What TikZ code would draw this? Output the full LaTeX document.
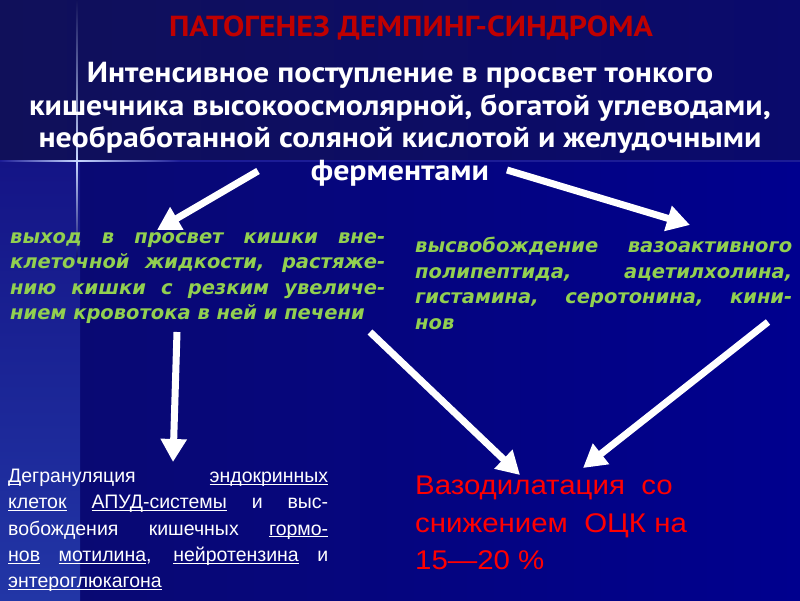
\documentclass[tikz,border=0pt]{standalone}
\usepackage{fontspec}
\setmainfont{Liberation Sans}
\newfontfamily\headfont{PT Sans}[FakeStretch=1.1]
\newfontfamily\greenfont{DejaVu Sans}
\newfontfamily\widefont{Liberation Sans}[FakeStretch=1.09]
\usetikzlibrary{arrows.meta}
\definecolor{bandleft}{HTML}{10105A}
\definecolor{bandright}{HTML}{0A0A6C}
\definecolor{fieldleft}{HTML}{0A0A70}
\definecolor{fieldright}{HTML}{00008E}
\definecolor{striptop}{HTML}{141486}
\definecolor{stripbottom}{HTML}{2236A6}
\definecolor{bandline}{HTML}{1C1C96}
\definecolor{flare}{HTML}{C8D8FF}
\definecolor{titlered}{HTML}{C00000}
\definecolor{litegreen}{HTML}{92D050}
\newcommand{\ulw}[1]{\underline{\smash{#1}}}
\newcommand{\jline}[2]{\makebox[#1][s]{#2}}
\begin{document}
\begin{tikzpicture}[x=1pt,y=-1pt,
    bigarrow/.style={draw=white,line width=7pt,-{Triangle[length=23pt,width=25pt]}},
    greentext/.style={anchor=north west,inner sep=0pt,align=left,text=litegreen,
      font=\greenfont\bfseries\itshape\fontsize{19.5}{25.5}\selectfont}]
    \useasboundingbox (0,0) rectangle (800,600);
    % upper band
    \shade[left color=bandleft,right color=bandright] (0,0) rectangle (800,161);
    % lower field
    \shade[left color=fieldleft,right color=fieldright] (0,161) rectangle (800,600);
    \shade[top color=striptop,bottom color=stripbottom] (0,161) rectangle (80,600);
    % border line
    \fill[bandline] (0,160) rectangle (800,162);
    % flare
    \shade[left color=bandline,right color=flare] (0,160.3) rectangle (77,161.7);
    \shade[left color=flare,right color=bandline] (77,160.3) rectangle (180,161.7);
    \shade[top color=bandleft,bottom color=flare] (76.4,0) rectangle (77.6,161);
    \shade[top color=flare,bottom color=fieldleft] (76.4,161) rectangle (77.6,260);
    % title
    \node[text=titlered,font=\headfont\bfseries\fontsize{29}{30}\selectfont] (title) at (411,28)
      {ПАТОГЕНЕЗ ДЕМПИНГ-СИНДРОМА};
    % cause
    \node[text=white,align=center,font=\headfont\bfseries\fontsize{29}{32.5}\selectfont] (cause) at (400,124)
      {Интенсивное поступление в просвет тонкого\\
       кишечника высокоосмолярной, богатой углеводами,\\
       необработанной соляной кислотой и желудочными\\
       ферментами};
    % left branch
    \node[greentext] (fluid) at (10,232)
      {\jline{375pt}{выход в просвет кишки вне-}\\
       \jline{375pt}{клеточной жидкости, растяже-}\\
       \jline{375pt}{нию кишки с резким увеличе-}\\
       нием кровотока в ней и печени};
    % right branch
    \node[greentext] (release) at (415,237)
      {\jline{377pt}{высвобождение вазоактивного}\\
       \jline{377pt}{полипептида, ацетилхолина,}\\
       \jline{377pt}{гистамина, серотонина, кини-}\\
       нов};
    % degranulation
    \node[anchor=north west,inner sep=0pt,align=left,text=white,
      font=\fontsize{19.5}{26.2}\selectfont] (degran) at (8,472)
      {\jline{320pt}{\ulw{Д}егрануляция \ulw{эндокринных}}\\
       \jline{320pt}{\ulw{клеток} \ulw{АПУД-системы} и выс-}\\
       \jline{320pt}{вобождения кишечных \ulw{гормо-}}\\
       \jline{320pt}{\ulw{нов} \ulw{мотилина}, \ulw{нейротензина} и}\\
       \ulw{энтероглюкагона}};
    % vasodilation
    \node[anchor=north west,inner sep=0pt,align=left,text=red,
      font=\widefont\fontsize{27}{37.5}\selectfont] (vaso) at (415,476)
      {Вазодилатация\ \ со\\
       снижением\ \ ОЦК на\\
       15—20 \%};
    % arrows
    \coordinate (causeleft) at (258,171);
    \coordinate (fluidtop) at (157,230);
    \coordinate (causeright) at (507,170);
    \coordinate (releasetop) at (690,225);
    \coordinate (fluiddown) at (177,332);
    \coordinate (degrantop) at (173,462);
    \coordinate (fluidright) at (370,332);
    \coordinate (vasoleft) at (520,475);
    \coordinate (releasedown) at (768,322);
    \coordinate (vasoright) at (583,468);
    \draw[bigarrow] (causeleft) -- (fluidtop);
    \draw[bigarrow] (causeright) -- (releasetop);
    \draw[bigarrow] (fluiddown) -- (degrantop);
    \draw[bigarrow] (fluidright) -- (vasoleft);
    \draw[bigarrow] (releasedown) -- (vasoright);
\end{tikzpicture}
\end{document}
